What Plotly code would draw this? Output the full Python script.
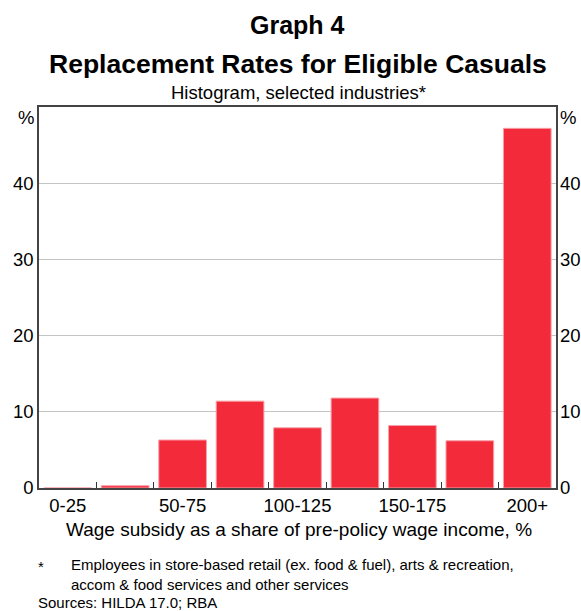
import plotly.graph_objects as go

categories = ["0-25", "25-50", "50-75", "75-100", "100-125", "125-150", "150-175", "175-200", "200+"]
values = [0.0, 0.3, 6.3, 11.4, 7.9, 11.8, 8.2, 6.2, 47.2]
tick_labels = ["0-25", "", "50-75", "", "100-125", "", "150-175", "", "200+"]
y_tickvals = [0, 10, 20, 30, 40]

FONT = "Liberation Sans, Arial, sans-serif"
RED = "#F22A3A"

# plot area in pixels: x 39..556, y 107..488
def py(y):
    return (488 - y) / 381.0

def px(x):
    return (x - 39) / 517.0

fig = go.Figure()
fig.add_trace(go.Bar(
    x=categories, y=values,
    marker=dict(color=RED, line=dict(color="#F7A0A8", width=1)),
    showlegend=False,
))
fig.add_trace(go.Bar(x=categories, y=[None] * len(categories), yaxis="y2",
                     showlegend=False, hoverinfo="skip"))

fig.update_layout(
    width=581, height=611,
    margin=dict(l=39, r=25, t=107, b=123, autoexpand=False),
    paper_bgcolor="white", plot_bgcolor="white",
    bargap=0.17,
    font=dict(family=FONT, color="black"),
    xaxis=dict(
        type="category", automargin=False,
        tickvals=categories, ticktext=tick_labels,
        tickson="boundaries", tickangle=0,
        ticks="inside", ticklen=6, tickcolor="#333", tickwidth=1,
        tickfont=dict(size=18.5, family=FONT),
        showline=True, linecolor="#444", linewidth=1.5, mirror=True,
        showgrid=False,
    ),
    yaxis=dict(
        range=[0, 50], tickvals=y_tickvals, automargin=False,
        tickfont=dict(size=18.5, family=FONT),
        showgrid=True, gridcolor="#C4C4C4", gridwidth=1,
        showline=True, linecolor="#444", linewidth=1.5, mirror=True,
        ticks="", zeroline=False,
    ),
    yaxis2=dict(
        range=[0, 50], tickvals=y_tickvals, overlaying="y", side="right", automargin=False,
        tickfont=dict(size=18.5, family=FONT), ticklabelstandoff=3,
        showgrid=False, showline=False, ticks="", zeroline=False,
    ),
)

def note(text, x, y, size, xanchor="center", bold=False, align="center"):
    if bold:
        text = "<b>" + text + "</b>"
    fig.add_annotation(text=text, xref="paper", yref="paper", x=px(x), y=py(y),
                       showarrow=False, font=dict(family=FONT, size=size, color="black"),
                       xanchor=xanchor, yanchor="middle", align=align)

note("Graph 4", 297, 25, 25, bold=True)
note("Replacement Rates for Eligible Casuals", 298, 64, 26.5, bold=True)
note("Histogram, selected industries*", 298, 93, 18.5)
note("%", 36, 117, 18.5, xanchor="right")
note("%", 558, 117, 18.5, xanchor="left")
note("Wage subsidy as a share of pre-policy wage income, %", 299, 529, 19)
note("*", 36, 566, 15, xanchor="left")
note("Employees in store-based retail (ex. food &amp; fuel), arts &amp; recreation,<br>"
     "accom &amp; food services and other services", 69, 574, 15, xanchor="left", align="left")
note("Sources: HILDA 17.0; RBA", 36, 602, 15, xanchor="left")

fig.write_html("out.html")
